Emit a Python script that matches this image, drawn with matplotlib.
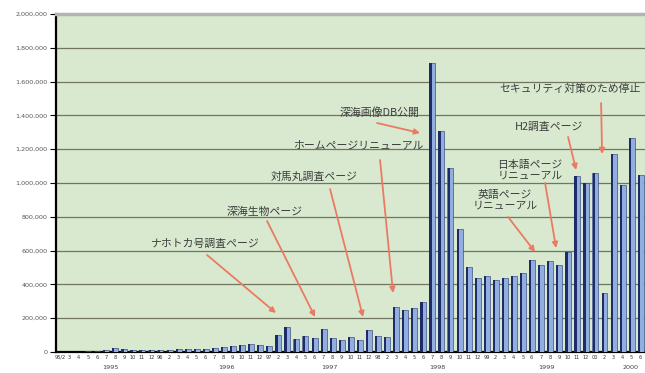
import matplotlib
matplotlib.use('Agg')
import matplotlib.pyplot as plt
import matplotlib.transforms as mtransforms
import numpy as np

# monthly page hits, 1995/2 .. 2000/6
hits_1995 = [1000, 2000, 2000, 3000, 8000, 12000, 22000, 15000, 13000, 14000, 12000]  # Feb-Dec
hits_1996 = [10000, 13000, 16000, 18000, 17000, 20000, 24000, 28000, 38000, 42000, 45000, 42000]
hits_1997 = [38000, 100000, 147000, 77000, 92000, 83000, 136000, 83000, 72000, 87000, 72000, 130000]
hits_1998 = [94000, 90000, 267000, 250000, 258000, 295000, 1713000, 1310000, 1088000, 730000, 502000, 437000]
hits_1999 = [448000, 425000, 435000, 448000, 468000, 547000, 517000, 537000, 517000, 592000, 1040000, 1000000]
hits_2000 = [1060000, 352000, 1170000, 990000, 1267000, 1050000]  # Jan-Jun

hits = hits_1995 + hits_1996 + hits_1997 + hits_1998 + hits_1999 + hits_2000

years = [1995, 1996, 1997, 1998, 1999, 2000]
first_month = {1995: 2}
last_month = {2000: 6}
year_label_x = [5.5, 18.3, 29.7, 41.6, 53.6, 62.9]

month_labels = []
for yr in years:
    for m in range(first_month.get(yr, 1), last_month.get(yr, 12) + 1):
        if yr == 1995 and m == 2:
            month_labels.append('95/2')
        elif m == 1:
            month_labels.append(str(yr)[2:])
        else:
            month_labels.append(str(m))

yticks = np.arange(0, 2000001, 200000)

notes = [
    # text, text pos (px), arrow start (px), arrow tip (px)
    ('ナホトカ号調査ページ', (205, 244), (207, 255), (276, 313)),
    ('深海生物ページ', (265, 212), (267, 221), (315, 317)),
    ('対馬丸調査ページ', (314, 177), (330, 189), (363, 317)),
    ('ホームページリニューアル', (358, 146), (380, 160), (393, 293)),
    ('深海画像DB公開', (379, 113), (377, 123), (420, 133)),
    ('セキュリティ対策のため停止', (570, 89), (601, 103), (602, 154)),
    ('H2調査ページ', (549, 127), (568, 137), (576, 170)),
    ('日本語ページ\nリニューアル', (530, 170), (545, 183), (556, 248)),
    ('英語ページ\nリニューアル', (505, 200), (508, 217), (535, 252)),
]


def px2data(p):
    x, y = p
    return ((x - 56) / 9.06 - 0.5, (352 - y) * 2e6 / 338)


fig = plt.figure(figsize=(6.45, 3.73), dpi=100)
ax = fig.add_axes([56 / 645, 1 - 352 / 373, 589 / 645, 338 / 373])
ax.set_facecolor('#d8e9d0')

x = np.arange(len(hits))
ax.bar(x + 0.03, hits, width=0.66, color='#92aee0', edgecolor='#24336e', linewidth=0.4, zorder=3)
ax.bar(x - 0.17, hits, width=0.24, color='#1d2b66', linewidth=0, zorder=4)

ax.set_xlim(-0.5, len(hits) - 0.5)
ax.set_ylim(0, 2000000)

ax.set_yticks(yticks)
ax.set_yticklabels([f'{v:,}' for v in yticks], fontsize=4.6, color='#555555')
ax.set_xticks(x)
ax.set_xticklabels(month_labels, fontsize=3.6, color='#333333')
ax.tick_params(axis='y', length=4, width=0.8, pad=2)
ax.tick_params(axis='x', length=0, pad=2)

ax.grid(axis='y', color='#70765f', linewidth=0.9, zorder=1)
ax.set_axisbelow(True)
ax.spines['right'].set_visible(False)
ax.spines['top'].set_color('#b3b3b3')
ax.spines['top'].set_linewidth(2.5)
ax.spines['left'].set_linewidth(1.6)
ax.spines['bottom'].set_linewidth(1.6)

trans = mtransforms.blended_transform_factory(ax.transData, ax.transAxes)
for yr, xp in zip(years, year_label_x):
    ax.text(xp, -0.046, str(yr), transform=trans, ha='center', va='center',
            fontsize=4.6, color='#444444')

for txt, tpos, start, tip in notes:
    ax.text(*px2data(tpos), txt, ha='center', va='center', fontsize=7.8,
            family=['Noto Sans CJK JP', 'DejaVu Sans'], color='#3c3c3c',
            linespacing=1.05, zorder=6)
    ax.annotate('', xy=px2data(tip), xytext=px2data(start),
                arrowprops=dict(arrowstyle='-|>', color='#ec7a62', lw=1.3,
                                mutation_scale=8, shrinkA=0, shrinkB=0), zorder=6)

fig.savefig('out.png', dpi=100)
